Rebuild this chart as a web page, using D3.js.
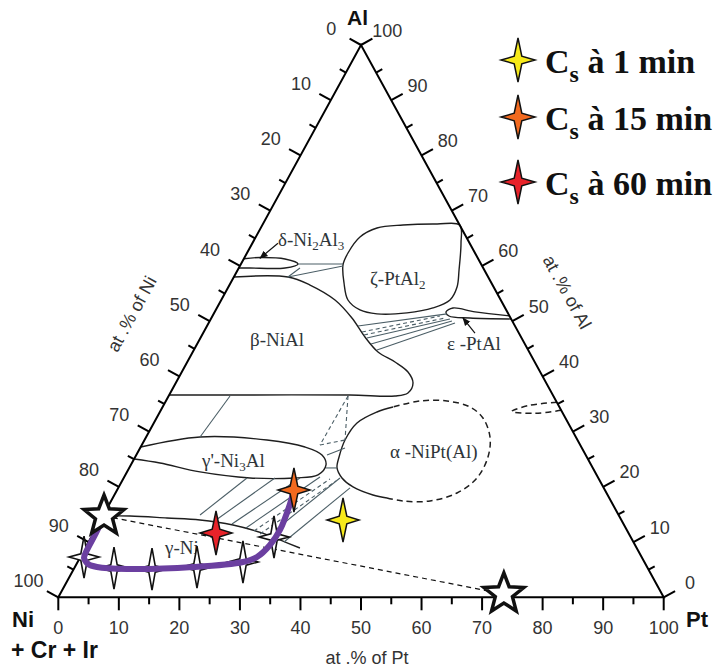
<!DOCTYPE html>
<html><head><meta charset="utf-8">
<script src="https://cdn.jsdelivr.net/npm/d3@7"></script>
<style>body{margin:0;background:#fff}svg{display:block}</style>
</head><body>
<svg id="c" width="725" height="668"></svg>
<script>
// ---- data: compositions as [at.% Pt, at.% Al] (Ni = remainder) ----
const tickValues = d3.range(0, 101, 5);
const tickLabels = [0,10,20,30,40,50,60,70,80,90,100];

const deltaPhase = [[0,61.3],[2.56,61.52],[6.82,61.25],[9.42,60.35],[7.64,59.62],[1.85,59.62],[0,59.62]];
const betaPhase = [[0,57.99],[8.94,57.99],[13.31,56.54],[18.79,53.83],[23.22,50.57],[27.09,47.13],[30.6,44.42],[34.31,42.61],[37.36,40.8],[39.19,38.8],[39.26,36.99],[37.39,36.45],[29.86,36.63],[13.34,36.63],[0,36.63]];
const zetaPhase = [[16.94,60.17],[16.68,62.34],[17.21,65.24],[19.21,66.87],[23.23,67.41],[28.75,67.59],[32.6,67.4],[34.44,64.16],[36.56,59.27],[37.77,56.19],[37.78,53.84],[35.69,52.39],[31.86,51.49],[26.98,51.31],[23.82,52.02],[20.93,53.83],[18.74,56.91]];
const epsilonPhase = [[49.05,50.95],[43.0,51.67],[39.0,52.39],[38.21,51.67],[39.07,50.93],[42.71,50.57],[49.6,50.4]];
const gammaPrimePhase = [[0,27.21],[8.9,29.03],[20.23,28.48],[27.14,27.21],[30.67,25.77],[32.24,23.96],[31.82,22.16],[28.29,21.61],[20.86,21.61],[12.06,22.7],[4.64,24.32],[0,25.05]];
const alphaSolid = [[38.06,34.46],[35.86,33.55],[33.56,31.56],[33.12,28.48],[33.67,25.41],[34.33,23.42],[36.05,21.61],[38.69,19.98],[42.71,18.53],[45.3,17.98]];
const alphaDashed = [[45.3,17.98],[48.22,17.44],[52.68,17.44],[56.41,18.89],[58.35,21.61],[58.27,25.41],[56.79,29.03],[53.91,32.47],[50.77,34.46],[46.44,35.54],[41.98,35.54],[38.06,34.46]];
const smallLens = [[64.7,35.3],[60.38,34.74],[58.11,33.65],[62.09,33.31],[66.15,33.85]];
const gammaBoundary = [[0,14.72],[4.48,14.72],[10.77,14.36],[16.41,14.0],[22.31,13.09],[27.82,11.65],[31.43,10.38],[35.45,8.93]];

const tieSolid = [
  [[9.42,60.35],[16.86,60.35]],
  [[8.94,57.99],[17.03,59.99]],
  [[8.94,57.99],[10.11,59.62]],
  [[24.94,49.12],[38.55,51.31]],
  [[27.51,46.95],[39.5,50.39]],
  [[28.71,45.87],[40.01,50.03]],
  [[30.25,44.78],[40.69,49.67]],
  [[10.14,36.45],[8.9,29.03]],
  [[15.96,14.9],[20.36,21.61]],
  [[19.05,14.0],[24.98,21.61]],
  [[22.05,13.27],[29.11,21.61]],
  [[24.72,12.55],[32.33,21.79]],
  [[29.09,11.1],[35.72,21.61]],
  [[32.27,10.02],[38.28,19.81]],
  [[31.5,25.77],[33.84,27.03]],
  [[32.51,23.42],[34.33,23.42]]
];
const tieDashed = [
  [[26.14,48.04],[37.58,50.93]],
  [[26.75,47.5],[38.58,50.57]],
  [[29.63,36.45],[29.44,27.58]],
  [[29.63,36.45],[33.12,28.48]],
  [[29.44,27.58],[33.12,28.48]],
  [[26.33,12.0],[34.16,21.43]],
  [[27.59,11.46],[35.33,21.07]]
];
const arrows = [
  [[4.23,64.11],[2.62,61.4]],
  [[44.9,47.85],[41.56,50.57]]
];

const pathPoints = [[0.61,7.28],[6.55,5.3],[12.92,5.12],[20.17,5.48],[27.31,6.39],[30.17,10.92]];
const purplePath = [[0.19,14.72],[0.4,11.66],[0.48,8.2],[0.69,7.12],[1.9,6.03],[3.65,5.48],[8.79,5.12],[19.51,5.48],[27.31,6.39],[29.17,7.3],[30.23,9.47],[30.52,12.19],[29.93,16.35],[29.21,19.43]];
const csTimes = ["1 min","15 min","60 min"];
const csColors = ["#f7ea1a","#f26a1f","#e8232a"];
const csPoints = [[40.03,14.0],[29.21,19.43],[20.23,11.64]];
const bigStars = [[0.19,14.72],[73.3,0.6]];

// ---- scales / projection ----
const sx = d3.scaleLinear().domain([0,100]).range([58.3, 663.7]);
const sy = d3.scaleLinear().domain([0,100]).range([597.3, 45]);
const proj = d => [sx(d[0] + d[1]/2), sy(d[1])];

const svg = d3.select("#c");
const defs = svg.append("defs");
defs.append("marker").attr("id","arr").attr("viewBox","0 0 10 10").attr("refX",9).attr("refY",5)
  .attr("markerWidth",7).attr("markerHeight",7).attr("orient","auto")
  .append("path").attr("d","M0,1 L10,5 L0,9 Z").attr("fill","#111");

const lineOpen = d3.line().x(d=>proj(d)[0]).y(d=>proj(d)[1]).curve(d3.curveCatmullRom.alpha(0.5));
const lineClosed = d3.line().x(d=>proj(d)[0]).y(d=>proj(d)[1]).curve(d3.curveCatmullRomClosed.alpha(0.5));
const lineStraight = d3.line().x(d=>proj(d)[0]).y(d=>proj(d)[1]);

const g = svg.append("g").attr("fill","none");
const bnd = "#1e1e1e";
[deltaPhase, betaPhase, epsilonPhase, gammaPrimePhase, alphaSolid, gammaBoundary].forEach(p =>
  g.append("path").attr("d", lineOpen(p)).attr("stroke", bnd).attr("stroke-width",1.4));
g.append("path").attr("d", lineClosed(zetaPhase)).attr("stroke", bnd).attr("stroke-width",1.4);
[alphaDashed, smallLens].forEach(p =>
  g.append("path").attr("d", lineOpen(p)).attr("stroke", bnd).attr("stroke-width",1.5).attr("stroke-dasharray","6,4"));
tieSolid.forEach(p => g.append("path").attr("d", lineStraight(p)).attr("stroke","#4b5e66").attr("stroke-width",1.1));
tieDashed.forEach(p => g.append("path").attr("d", lineStraight(p)).attr("stroke","#4b5e66").attr("stroke-width",1.1).attr("stroke-dasharray","4,3"));
arrows.forEach(p => g.append("path").attr("d", lineStraight(p)).attr("stroke","#111").attr("stroke-width",1.2).attr("marker-end","url(#arr)"));

// phase labels
const lab = svg.append("g").attr("font-family","'Liberation Serif', 'Times New Roman', serif").attr("font-size",19).attr("fill","#2e3539");
function phaseLabel(x, y, parts){
  const t = lab.append("text").attr("x",x).attr("y",y);
  let prevSub = false;
  parts.forEach(([s, sub]) => {
    const ts = t.append("tspan").text(s);
    if (sub) ts.attr("font-size",13).attr("dy",prevSub ? 0 : 4);
    else if (prevSub) ts.attr("dy",-4);
    prevSub = !!sub;
  });
}
phaseLabel(278,246,[["δ-Ni"],["2",1],["Al"],["3",1]]);
phaseLabel(370,285,[["ζ-PtAl"],["2",1]]);
phaseLabel(250,346,[["β-NiAl"]]);
phaseLabel(447,350,[["ε -PtAl"]]);
phaseLabel(202,467,[["γ'-Ni"],["3",1],["Al"]]);
phaseLabel(390,458,[["α -NiPt(Al)"]]);
phaseLabel(165,554,[["γ-Ni"]]);

// triangle
const Ni = proj([0,0]), Pt = proj([100,0]), Al = proj([0,100]);
svg.append("path").attr("d", `M${Ni}L${Pt}L${Al}Z`).attr("fill","none").attr("stroke","#000").attr("stroke-width",2);
const nL = [-0.877,-0.481], nR = [0.877,-0.481], nB = [0,1];
const axes = [
  {pos: v => proj([0,100-v]), n: nL, off: 34},
  {pos: v => proj([100-v, v]), n: nR, off: 30},
  {pos: v => proj([v,0]), n: nB, off: 31}
];
const tg = svg.append("g").attr("stroke","#000").attr("stroke-width",2);
const tl = svg.append("g").attr("font-family","'Liberation Sans', Arial, sans-serif").attr("font-size",18).attr("fill","#333").attr("text-anchor","middle").attr("dominant-baseline","central");
axes.forEach(a => {
  tickValues.forEach(v => {
    const p = a.pos(v), len = v % 10 === 0 ? 13 : 7;
    tg.append("line").attr("x1",p[0]).attr("y1",p[1]).attr("x2",p[0]+a.n[0]*len).attr("y2",p[1]+a.n[1]*len);
  });
  tickLabels.forEach(v => {
    const p = a.pos(v);
    tl.append("text").attr("x",p[0]+a.n[0]*a.off).attr("y",p[1]+a.n[1]*a.off).text(v);
  });
});
const at = svg.append("g").attr("font-family","'Liberation Sans', Arial, sans-serif").attr("font-size",18).attr("fill","#333").attr("text-anchor","middle").attr("dominant-baseline","central");
at.append("text").attr("transform","translate(132,314) rotate(-61.2)").text("at .% of Ni");
at.append("text").attr("transform","translate(567,292) rotate(61.2)").text("at .% of Al");
at.append("text").attr("x",367).attr("y",658).text("at .% of Pt");

const vl = svg.append("g").attr("font-family","'Liberation Sans', Arial, sans-serif").attr("font-weight","bold").attr("fill","#111");
vl.append("text").attr("x",347).attr("y",25).attr("font-size",21).text("Al");
vl.append("text").attr("x",12).attr("y",627).attr("font-size",22).text("Ni");
vl.append("text").attr("x",11).attr("y",658).attr("font-size",23).text("+ Cr + Ir");
vl.append("text").attr("x",686).attr("y",627).attr("font-size",22).text("Pt");

// markers
const star4 = (w,h,i) => `M0,${-h}L${i},${-i}L${w},0L${i},${i}L0,${h}L${-i},${i}L${-w},0L${-i},${-i}Z`;
const star5 = (R, r) => { let s=""; for(let k=0;k<10;k++){const ang=-Math.PI/2+k*Math.PI/5, rr=k%2?r:R; s+=(k?"L":"M")+(rr*Math.cos(ang)).toFixed(2)+","+(rr*Math.sin(ang)).toFixed(2);} return s+"Z"; };

svg.append("path").attr("d", lineStraight(bigStars)).attr("fill","none").attr("stroke","#111").attr("stroke-width",1.2).attr("stroke-dasharray","5,4");

svg.selectAll(".ws").data(pathPoints).join("path").attr("class","ws")
  .attr("transform", d => `translate(${proj(d)})`).attr("d", star4(15,21,3.2))
  .attr("fill","#fff").attr("stroke","#111").attr("stroke-width",1.6).attr("stroke-linejoin","miter");

svg.append("path").attr("d", lineOpen(purplePath)).attr("fill","none").attr("stroke","#6b3fa0").attr("stroke-width",6).attr("stroke-linecap","round");

svg.selectAll(".cs").data(csPoints).join("path").attr("class","cs")
  .attr("transform", d => `translate(${proj(d)})`).attr("d", star4(16,22,3.8))
  .attr("fill",(d,i)=>csColors[i]).attr("stroke","#111").attr("stroke-width",1.5);

svg.selectAll(".bs").data(bigStars).join("path").attr("class","bs")
  .attr("transform", d => `translate(${proj(d)})`).attr("d", star5(21,9))
  .attr("fill","#fff").attr("stroke","#111").attr("stroke-width",3.5).attr("stroke-linejoin","miter");

// legend
const legY = [60,117,182], legBase = [73,130,195];
const lg = svg.append("g");
csTimes.forEach((t,i) => {
  lg.append("path").attr("transform",`translate(518,${legY[i]})`).attr("d", star4(17,22,3.8))
    .attr("fill",csColors[i]).attr("stroke","#111").attr("stroke-width",1.5);
  const tx = lg.append("text").attr("x",545).attr("y",legBase[i])
    .attr("font-family","'Liberation Serif', 'Times New Roman', serif").attr("font-weight","bold").attr("font-size",34).attr("fill","#111");
  tx.append("tspan").text("C");
  tx.append("tspan").attr("font-size",24).attr("dy",9).text("s");
  tx.append("tspan").attr("dy",-9).text(" à " + t);
});
</script></body></html>
